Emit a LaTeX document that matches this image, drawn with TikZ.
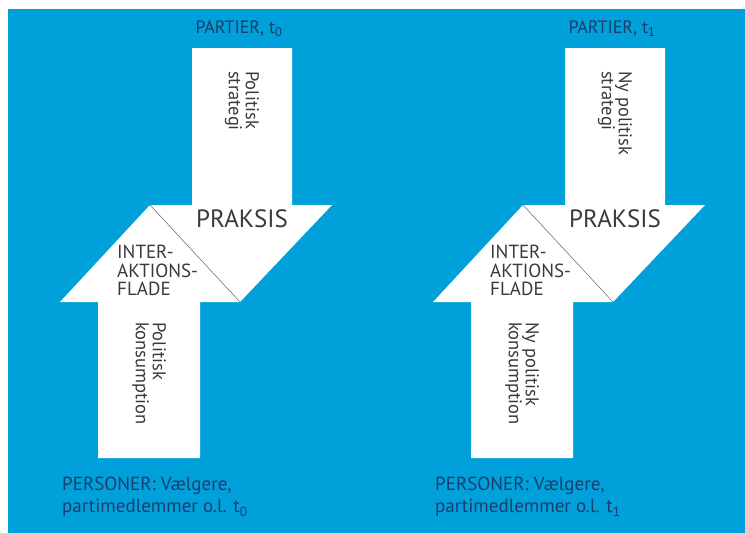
\documentclass[tikz,border=0pt]{standalone}
\usepackage{fontspec}
\setmainfont{PT Sans}
\definecolor{bgblue}{HTML}{00A0DA}
\definecolor{navy}{HTML}{1B3D6E}
\definecolor{ink}{HTML}{3A3A3A}
\begin{document}
\begin{tikzpicture}[x=1pt, y=-1pt,
    arrowfill/.style={fill=white},
    cut/.style={draw=gray!80!black, line width=0.5pt},
    headlabel/.style={text=navy, font=\fontsize{18}{20}\selectfont},
    footlabel/.style={text=navy, align=left, inner sep=0pt,
      font=\fontsize{19}{22}\selectfont},
    flowlabel/.style={text=ink, rotate=-90, align=left, anchor=west,
      inner sep=0pt, font=\fontsize{18.5}{17}\selectfont},
    praksislabel/.style={text=ink, font=\fontsize{25}{28}\selectfont},
    facelabel/.style={text=ink, align=left, anchor=north west, inner sep=0pt,
      font=\fontsize{19}{18.5}\selectfont}]
    \useasboundingbox (0,0) rectangle (745,533);
    \fill[white] (0,0) rectangle (745,533);
    \fill[bgblue] (8,9) rectangle (745,533);

    % t0
    \begin{scope}
    \fill[arrowfill] (192,48) -- (292,48) -- (292,205) -- (332,205)
        -- (240,302) -- (150,205) -- (192,205) -- cycle;
    \fill[arrowfill] (98,458) -- (98,302) -- (60,302) -- (150,205)
        -- (240,302) -- (200,302) -- (200,458) -- cycle;
    \coordinate (cutA) at (150,205);
    \coordinate (cutB) at (240,302);
    \draw[cut] (cutA) -- (cutB);

    \node[headlabel] (partierA) at (239,29) {PARTIER, t\textsubscript{0}};
    \node[flowlabel] (strategiA) at (242,71) {Politisk\\strategi};
    \node[praksislabel] (praksisA) at (242,219) {PRAKSIS};
    \node[facelabel] (fladeA) at (117,245) {INTER-\\AKTIONS-\\FLADE};
    \node[flowlabel] (konsumA) at (149,322) {Politisk\\konsumption};
    \node[footlabel, anchor=north west] (personerA) at (62,477)
        {PERSONER: Vælgere,\\partimedlemmer o.l. t\textsubscript{0}};
    \end{scope}

    % t1
    \begin{scope}[shift={(373,0)}]
    \fill[arrowfill] (192,48) -- (292,48) -- (292,205) -- (332,205)
        -- (240,302) -- (150,205) -- (192,205) -- cycle;
    \fill[arrowfill] (98,458) -- (98,302) -- (60,302) -- (150,205)
        -- (240,302) -- (200,302) -- (200,458) -- cycle;
    \coordinate (cutC) at (150,205);
    \coordinate (cutD) at (240,302);
    \draw[cut] (cutC) -- (cutD);

    \node[headlabel] (partierB) at (239,29) {PARTIER, t\textsubscript{1}};
    \node[flowlabel] (strategiB) at (242,71) {Ny politisk\\strategi};
    \node[praksislabel] (praksisB) at (242,219) {PRAKSIS};
    \node[facelabel] (fladeB) at (117,245) {INTER-\\AKTIONS-\\FLADE};
    \node[flowlabel] (konsumB) at (149,322) {Ny politisk\\konsumption};
    \node[footlabel, anchor=north west] (personerB) at (62,477)
        {PERSONER: Vælgere,\\partimedlemmer o.l. t\textsubscript{1}};
    \end{scope}
\end{tikzpicture}
\end{document}
